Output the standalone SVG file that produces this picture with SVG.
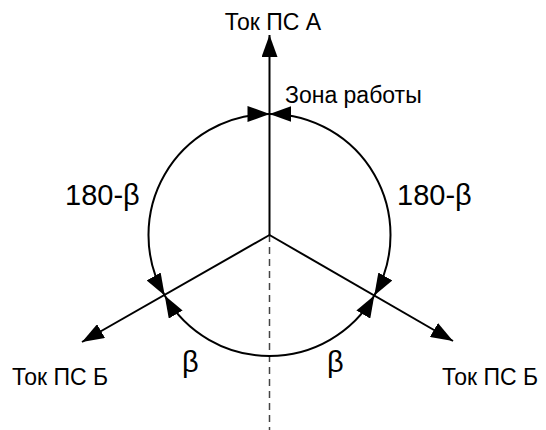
<svg xmlns="http://www.w3.org/2000/svg" width="546" height="430" viewBox="0 0 546 430">
<style>
text{font-family:"Liberation Sans",Arial,sans-serif;fill:#000}
.s{font-size:23px}
.b{font-size:29px}
.ln{stroke:#000;stroke-width:2;fill:none}
.dash{stroke:#444;stroke-width:1.5;stroke-dasharray:7 5;fill:none}
</style>
<defs>
<marker id="ah" markerWidth="22" markerHeight="16" refX="22" refY="8" orient="auto-start-reverse" markerUnits="userSpaceOnUse">
<path d="M0,0 L22,8 L0,16 Z" fill="#000"/>
</marker>
</defs>
<g id="connectors">
<line class="dash" x1="269.5" y1="235" x2="269.5" y2="430"/>
<line class="ln" x1="269.5" y1="235" x2="269.5" y2="35" marker-end="url(#ah)"/>
<line class="ln" x1="269.5" y1="235" x2="82" y2="342" marker-end="url(#ah)"/>
<line class="ln" x1="269.5" y1="235" x2="453" y2="341" marker-end="url(#ah)"/>
<path class="ln" d="M164.7,295.5 A121,121 0 0 1 269.5,114" marker-start="url(#ah)" marker-end="url(#ah)"/>
<path class="ln" d="M269.5,114 A121,121 0 0 1 374.3,295.5" marker-start="url(#ah)" marker-end="url(#ah)"/>
<path class="ln" d="M374.3,295.5 A121,121 0 0 1 164.7,295.5" marker-start="url(#ah)" marker-end="url(#ah)"/>
</g>
<g id="label-a"><text class="s" x="273" y="30" text-anchor="middle">Ток ПС А</text></g>
<g id="label-zone"><text class="s" x="285" y="103">Зона работы</text></g>
<g id="label-b-left"><text class="s" x="12" y="385">Ток ПС Б</text></g>
<g id="label-b-right"><text class="s" x="442" y="385">Ток ПС Б</text></g>
<g id="label-180-left"><text class="b" x="65" y="205">180-β</text></g>
<g id="label-180-right"><text class="b" x="397" y="205">180-β</text></g>
<g id="label-beta-left"><text class="b" x="182" y="372">β</text></g>
<g id="label-beta-right"><text class="b" x="327" y="372">β</text></g>
</svg>
